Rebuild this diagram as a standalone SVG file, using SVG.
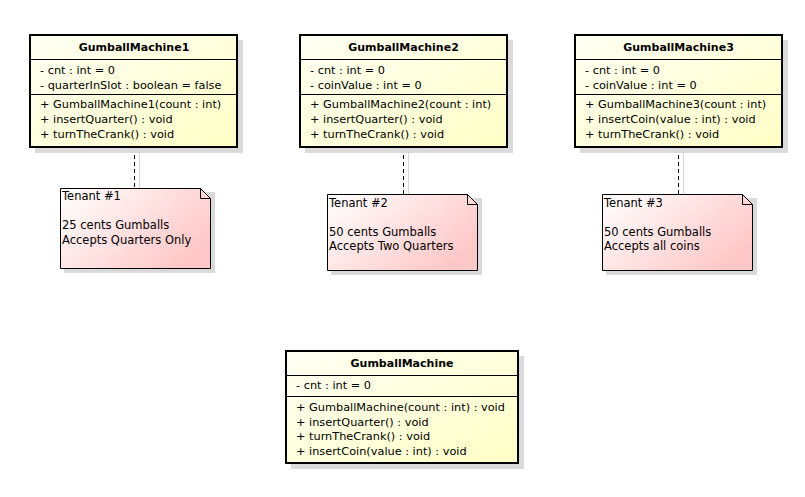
<svg xmlns="http://www.w3.org/2000/svg" width="805" height="497" viewBox="0 0 805 497">
  <defs>
    <linearGradient id="classFill" x1="0" y1="0" x2="1" y2="1">
      <stop offset="0" stop-color="#fffff4"/>
      <stop offset="1" stop-color="#ffffc6"/>
    </linearGradient>
    <linearGradient id="noteFill" x1="0" y1="0" x2="1" y2="0.6">
      <stop offset="0" stop-color="#ffffff"/>
      <stop offset="1" stop-color="#ffc8c8"/>
    </linearGradient>
    <style>
      .shadow { fill: #dadada; }
      .box { fill: url(#classFill); stroke: #000; stroke-width: 2; }
      .sep { stroke: #000; stroke-width: 1; }
      .note { fill: url(#noteFill); stroke: #000; stroke-width: 1; }
      .fold { fill: none; stroke: #000; stroke-width: 1; }
      .title { font-family: "DejaVu Sans", sans-serif; font-size: 11px; font-weight: bold; text-anchor: middle; fill: #000; }
      .member { font-family: "DejaVu Sans", sans-serif; font-size: 11.3px; fill: #000; }
      .ntext { font-family: "DejaVu Sans", sans-serif; font-size: 11.5px; fill: #000; }
      .link { stroke: #000; stroke-width: 1; stroke-dasharray: 4 3; fill: none; }
      .linkShadow { stroke: #d6d6d6; stroke-width: 1; fill: none; }
    </style>
  </defs>
  <rect width="805" height="497" fill="#ffffff"/>

  <!-- note anchors -->
  <g id="connectors">
    <line class="linkShadow" x1="139.5" y1="152" x2="139.5" y2="192"/>
    <line class="link" x1="134.5" y1="148" x2="134.5" y2="188"/>
    <line class="linkShadow" x1="408.5" y1="152" x2="408.5" y2="198"/>
    <line class="link" x1="403.5" y1="148" x2="403.5" y2="194"/>
    <line class="linkShadow" x1="683.5" y1="152" x2="683.5" y2="198"/>
    <line class="link" x1="678.5" y1="148" x2="678.5" y2="194"/>
  </g>

  <g id="GumballMachine1">
    <rect class="shadow" x="35" y="40" width="208" height="113"/>
    <rect class="box" x="30" y="35" width="207" height="112"/>
    <line class="sep" x1="30" y1="59.5" x2="237" y2="59.5"/>
    <line class="sep" x1="30" y1="94.5" x2="237" y2="94.5"/>
    <text class="title" x="134" y="51">GumballMachine1</text>
    <text class="member" x="40" y="74">- cnt : int = 0</text>
    <text class="member" x="40" y="89">- quarterInSlot : boolean = false</text>
    <text class="member" x="40" y="108">+ GumballMachine1(count : int)</text>
    <text class="member" x="40" y="123">+ insertQuarter() : void</text>
    <text class="member" x="40" y="138">+ turnTheCrank() : void</text>
  </g>

  <g id="GumballMachine2">
    <rect class="shadow" x="305" y="40" width="208" height="113"/>
    <rect class="box" x="300" y="35" width="207" height="112"/>
    <line class="sep" x1="300" y1="59.5" x2="507" y2="59.5"/>
    <line class="sep" x1="300" y1="94.5" x2="507" y2="94.5"/>
    <text class="title" x="403.5" y="51">GumballMachine2</text>
    <text class="member" x="310" y="74">- cnt : int = 0</text>
    <text class="member" x="310" y="89">- coinValue : int = 0</text>
    <text class="member" x="310" y="108">+ GumballMachine2(count : int)</text>
    <text class="member" x="310" y="123">+ insertQuarter() : void</text>
    <text class="member" x="310" y="138">+ turnTheCrank() : void</text>
  </g>

  <g id="GumballMachine3">
    <rect class="shadow" x="580" y="40" width="208" height="113"/>
    <rect class="box" x="575" y="35" width="207" height="112"/>
    <line class="sep" x1="575" y1="59.5" x2="782" y2="59.5"/>
    <line class="sep" x1="575" y1="94.5" x2="782" y2="94.5"/>
    <text class="title" x="678.5" y="51">GumballMachine3</text>
    <text class="member" x="585" y="74">- cnt : int = 0</text>
    <text class="member" x="585" y="89">- coinValue : int = 0</text>
    <text class="member" x="585" y="108">+ GumballMachine3(count : int)</text>
    <text class="member" x="585" y="123">+ insertCoin(value : int) : void</text>
    <text class="member" x="585" y="138">+ turnTheCrank() : void</text>
  </g>

  <g id="Tenant1">
    <path class="shadow" d="M64,192 H215 V273 H64 Z"/>
    <path class="note" d="M60.5,188.5 H200.5 L210.5,198.5 V268.5 H60.5 Z"/>
    <path class="fold" d="M200.5,188.5 V198.5 H210.5"/>
    <text class="ntext" x="62" y="200">Tenant #1</text>
    <text class="ntext" x="62" y="229">25 cents Gumballs</text>
    <text class="ntext" x="62" y="244">Accepts Quarters Only</text>
  </g>

  <g id="Tenant2">
    <path class="shadow" d="M331,198 H482 V275 H331 Z"/>
    <path class="note" d="M327.5,194.5 H467.5 L477.5,204.5 V270.5 H327.5 Z"/>
    <path class="fold" d="M467.5,194.5 V204.5 H477.5"/>
    <text class="ntext" x="329" y="207">Tenant #2</text>
    <text class="ntext" x="329" y="236">50 cents Gumballs</text>
    <text class="ntext" x="329" y="250">Accepts Two Quarters</text>
  </g>

  <g id="Tenant3">
    <path class="shadow" d="M606,198 H757 V275 H606 Z"/>
    <path class="note" d="M602.5,194.5 H742.5 L752.5,204.5 V270.5 H602.5 Z"/>
    <path class="fold" d="M742.5,194.5 V204.5 H752.5"/>
    <text class="ntext" x="604" y="207">Tenant #3</text>
    <text class="ntext" x="604" y="236">50 cents Gumballs</text>
    <text class="ntext" x="604" y="250">Accepts all coins</text>
  </g>

  <g id="GumballMachine">
    <rect class="shadow" x="291" y="356" width="233" height="113"/>
    <rect class="box" x="286" y="351" width="232" height="112"/>
    <line class="sep" x1="286" y1="375.5" x2="518" y2="375.5"/>
    <line class="sep" x1="286" y1="396.5" x2="518" y2="396.5"/>
    <text class="title" x="402" y="367">GumballMachine</text>
    <text class="member" x="296" y="389">- cnt : int = 0</text>
    <text class="member" x="296" y="411">+ GumballMachine(count : int) : void</text>
    <text class="member" x="296" y="425.5">+ insertQuarter() : void</text>
    <text class="member" x="296" y="440">+ turnTheCrank() : void</text>
    <text class="member" x="296" y="454.5">+ insertCoin(value : int) : void</text>
  </g>
</svg>
